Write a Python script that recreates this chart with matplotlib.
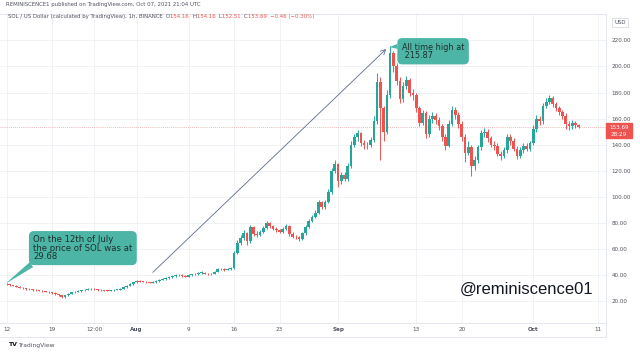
import numpy as np
import matplotlib.pyplot as plt
from matplotlib.lines import Line2D
from matplotlib.patches import Rectangle

plt.rcParams['font.family'] = ['DejaVu Sans']

closes = [
    33.0, 32.5, 31.8, 31.3, 30.6, 30.0, 29.4, 29.1, 28.7, 28.6,
    28.2, 27.8, 27.5, 27.0, 26.3, 25.6, 24.5, 23.2, 24.6, 26.0,
    26.8, 27.4, 27.9, 28.4, 28.9, 29.3, 29.8, 29.2, 28.8, 28.6,
    28.3, 28.2, 28.4, 28.8, 29.0, 29.8, 30.8, 32.0, 33.3, 34.5,
    35.8, 35.2, 35.0, 34.6, 34.3, 34.7, 35.6, 36.4, 37.0, 37.8,
    38.5, 39.5, 40.3, 40.0, 39.4, 39.0, 40.2, 40.6, 40.9, 41.8,
    42.0, 41.2, 40.6, 41.0, 42.8, 44.5, 44.9, 44.2, 44.6, 45.5,
    57.0, 65.0, 68.5, 72.5, 66.0, 77.0, 71.5, 71.0, 73.0, 76.5,
    80.0, 77.5, 75.5, 74.5, 73.0, 75.5, 77.5, 71.5, 69.5, 69.0,
    68.0, 72.0, 77.0, 81.5, 84.5, 88.0, 96.0, 92.5, 96.0, 104.0,
    120.0, 125.0, 112.0, 117.0, 114.0, 124.0, 140.0, 146.0, 149.0, 141.5,
    140.0, 139.5, 143.5, 158.0, 188.0, 168.0, 150.0, 178.0, 210.0, 200.0,
    189.0, 175.0, 185.0, 190.0, 180.0, 178.0, 168.0, 157.0, 164.0, 148.0,
    160.0, 162.0, 159.0, 154.0, 146.0, 139.0, 156.0, 167.0, 163.0, 156.0,
    146.0, 134.0, 138.0, 124.0, 128.0, 138.0, 149.0, 150.0, 145.0, 140.0,
    139.0, 133.0, 131.0, 136.0, 146.0, 143.0, 137.0, 131.0, 136.0, 139.0,
    137.0, 141.0, 152.0, 160.0, 158.0, 170.0, 173.0, 176.0, 171.0, 168.0,
    165.0, 162.0, 156.0, 154.0, 157.0, 155.0, 153.69,
]
highs = [
    33.9, 33.4, 32.9, 32.2, 31.7, 31.0, 30.4, 29.9, 29.5, 29.4,
    29.0, 28.6, 28.3, 27.9, 27.4, 26.8, 26.0, 24.9, 25.0, 26.4,
    27.3, 27.9, 28.4, 28.9, 29.4, 29.9, 30.4, 30.1, 29.6, 29.2,
    29.0, 28.8, 28.9, 29.3, 29.6, 30.3, 31.4, 32.6, 33.9, 35.2,
    36.6, 36.3, 35.8, 35.5, 35.1, 35.3, 36.2, 37.0, 37.6, 38.4,
    39.2, 40.2, 41.1, 41.0, 40.6, 39.9, 40.8, 41.3, 41.6, 42.5,
    42.9, 42.6, 41.8, 41.6, 43.4, 45.2, 45.8, 45.5, 45.3, 46.4,
    58.5, 67.0, 71.0, 75.0, 73.0, 78.5, 78.0, 74.0, 75.0, 78.0,
    81.5, 81.0, 78.5, 77.0, 75.5, 77.0, 79.5, 78.5, 73.0, 71.0,
    70.0, 73.5, 78.5, 83.0, 86.5, 90.0, 98.0, 97.0, 98.0, 106.0,
    122.0, 128.0, 126.0, 119.0, 119.0, 126.0, 143.0, 148.0, 151.0, 150.0,
    144.0, 142.0, 146.0, 162.0, 195.0, 192.0, 170.0, 182.0, 215.87, 212.0,
    203.0, 192.0, 188.0, 193.0, 191.0, 183.0, 180.0, 170.0, 167.0, 166.0,
    163.0, 165.0, 164.0, 161.0, 156.0, 148.0, 159.0, 170.0, 169.0, 165.0,
    158.0, 148.0, 143.0, 140.0, 131.0, 140.0, 151.0, 153.0, 152.0, 147.0,
    143.0, 141.0, 135.0, 138.0, 148.0, 148.0, 145.0, 139.0, 138.0, 141.0,
    141.0, 143.0, 155.0, 163.0, 162.0, 172.0, 176.0, 178.0, 177.0, 173.0,
    170.0, 167.0, 164.0, 158.0, 159.0, 158.0, 156.0,
]
lows = [
    32.6, 32.1, 31.4, 30.8, 30.2, 29.6, 29.0, 28.6, 28.3, 28.1,
    27.8, 27.4, 27.0, 26.5, 25.9, 25.1, 24.0, 22.6, 22.9, 24.2,
    25.6, 26.4, 27.0, 27.5, 28.0, 28.5, 28.9, 28.8, 28.3, 28.1,
    27.8, 27.7, 27.8, 28.0, 28.4, 28.6, 29.4, 30.4, 31.6, 32.9,
    34.1, 34.8, 34.5, 34.1, 33.7, 33.9, 34.3, 35.2, 36.0, 36.6,
    37.4, 38.1, 39.0, 39.6, 39.0, 38.5, 38.6, 39.7, 40.2, 40.4,
    41.2, 40.8, 40.0, 40.1, 40.6, 42.3, 44.0, 43.6, 43.7, 44.0,
    45.0, 56.0, 63.5, 67.0, 63.0, 65.0, 70.0, 69.0, 70.0, 72.0,
    75.5, 76.5, 74.5, 73.0, 72.0, 72.0, 74.5, 70.0, 68.5, 67.5,
    66.5, 67.0, 71.0, 76.0, 80.5, 83.5, 87.0, 90.5, 91.0, 95.0,
    102.0, 118.0, 108.0, 110.0, 112.0, 112.0, 122.0, 138.0, 143.0, 139.0,
    137.0, 137.0, 138.0, 142.0, 156.0, 128.0, 143.0, 148.0, 176.0, 196.0,
    186.0, 172.0, 173.0, 183.0, 177.0, 174.0, 165.0, 154.0, 155.0, 145.0,
    146.0, 157.0, 156.0, 151.0, 143.0, 136.0, 138.0, 154.0, 160.0, 153.0,
    143.0, 127.0, 132.0, 116.0, 121.0, 126.0, 136.0, 146.0, 142.0, 138.0,
    136.0, 131.0, 128.0, 130.0, 134.0, 140.0, 135.0, 129.0, 130.0, 134.0,
    135.0, 135.0, 140.0, 150.0, 155.0, 156.0, 168.0, 171.0, 169.0, 166.0,
    163.0, 160.0, 152.0, 151.0, 152.0, 153.0, 152.51,
]
first_open = 33.3

price_ticks = [20, 40, 60, 80, 100, 120, 140, 160, 180, 200, 220]
date_pos = [0, 7, 13.5, 20, 28, 35, 42, 51, 63, 70, 81, 91]
date_labels = ["12", "19", "12:00", "Aug", "9", "16", "23", "Sep", "13", "20", "Oct", "11"]

last_price = 153.69
ath_day, ath_price = 59.0, 215.87
start_day, start_price = -0.2, 33.3

green = "#26a69a"
red = "#ef5350"
teal = "#4cb5a6"

W, H = 640, 356
fig = plt.figure(figsize=(W / 100, H / 100), dpi=100)
ax = fig.add_axes([0, 1 - 323 / H, 606 / W, (323 - 14) / H])

days = np.arange(len(closes)) * 0.5
c = np.array(closes)
o = np.concatenate([[first_open], c[:-1]])
cols = [green if cc >= oo else red for oo, cc in zip(o, c)]

ax.vlines(days, lows, highs, colors=cols, lw=0.7, zorder=3)
body = np.maximum(np.abs(c - o), 0.4)
ax.bar(days, body, bottom=np.minimum(o, c), width=0.42, color=cols, lw=0, zorder=3)

ax.set_xlim(-1, 92.2)
ax.set_ylim(3.4, 240.2)
ax.yaxis.tick_right()
ax.set_yticks(price_ticks)
ax.set_yticklabels([f"{v:.2f}" for v in price_ticks])
ax.set_xticks(date_pos)
ax.set_xticklabels(date_labels)
for lab in ax.get_xticklabels():
    if lab.get_text() in ("Aug", "Sep", "Oct"):
        lab.set_fontweight("bold")
ax.tick_params(axis="y", length=0, pad=4, labelsize=4.1, labelcolor="#50535e")
ax.tick_params(axis="x", length=0, pad=3, labelsize=4.1, labelcolor="#50535e")
ax.grid(color="#eef0f4", lw=0.6, zorder=0)
for s in ax.spines.values():
    s.set_color("#e0e3eb")
    s.set_linewidth(0.6)
ax.spines["left"].set_visible(False)

# current price line and tag
ax.axhline(last_price, color="#e8a0a0", lw=0.6, ls=(0, (1, 1.5)), zorder=2)
trans = ax.get_yaxis_transform()
ax.add_patch(Rectangle((1.0, last_price - 8.8), 26 / 606, 12.0, transform=trans,
                       color=red, clip_on=False, zorder=5))
ax.text(1.0 + 13 / 606, last_price - 0.6, f"{last_price:.2f}", transform=trans,
        ha="center", va="center", fontsize=4.1, color="white", zorder=6)
ax.text(1.0 + 13 / 606, last_price - 5.6, "28:29", transform=trans,
        ha="center", va="center", fontsize=4.1, color="white", zorder=6)

# USD label
fig.patches.append(Rectangle((611.7 / W, 1 - 26.7 / H), 16.6 / W, 8.4 / H,
                             transform=fig.transFigure, fc="white", ec="#d1d4dc", lw=0.5))
fig.text(620 / W, 1 - 22.5 / H, "USD", ha="center", va="center", fontsize=3.9, color="#50535e")

# time axis bottom line
fig.add_artist(Line2D([0, 606 / W], [1 - 337 / H, 1 - 337 / H], color="#e0e3eb", lw=0.6))
fig.add_artist(Line2D([606 / W, 606 / W], [1 - 337 / H, 1 - 323 / H], color="#e0e3eb", lw=0.6))

# callouts
ax.annotate("On the 12th of July\nthe price of SOL was at\n29.68",
            xy=(start_day, start_price), xytext=(4.1, 70.6), textcoords="data",
            ha="left", va="top", fontsize=6.1, linespacing=0.9, color="#1e2f2d",
            bbox=dict(boxstyle="round,pad=0.5,rounding_size=0.6", fc=teal, ec="none"),
            arrowprops=dict(arrowstyle="wedge,tail_width=0.7,shrink_factor=0.5", fc=teal,
                            ec="none", relpos=(0.05, 0.05), shrinkA=0, shrinkB=0),
            zorder=7)
ax.annotate("All time high at\n 215.87",
            xy=(ath_day - 0.1, ath_price - 1), xytext=(60.8, 218.3), textcoords="data",
            ha="left", va="top", fontsize=5.9, linespacing=0.9, color="#1e2f2d",
            bbox=dict(boxstyle="round,pad=0.55,rounding_size=0.6", fc=teal, ec="none"),
            arrowprops=dict(arrowstyle="wedge,tail_width=0.6,shrink_factor=0.5", fc=teal,
                            ec="none", relpos=(0.02, 0.8), shrinkA=0, shrinkB=0),
            zorder=7)
ax.annotate("", xy=(ath_day - 0.6, ath_price - 2.5), xytext=(22.5, 42.2),
            arrowprops=dict(arrowstyle="->,head_length=0.35,head_width=0.18",
                            color="#5b6b8c", lw=0.6, shrinkA=0, shrinkB=0), zorder=6)

fig.text(460 / W, 1 - 289 / H, "@reminiscence01", family="Liberation Sans", fontsize=12,
         color="#131722", va="center", ha="left")

# header texts
fig.text(6 / W, 1 - 4.5 / H, "REMINISCENCE1 published on TradingView.com, Oct 07, 2021 21:04 UTC",
         fontsize=3.9, color="#50535e", va="center", ha="left")

pieces = [("SOL / US Dollar (calculated by TradingView), 1h, BINANCE  ", "#50535e"),
          ("O", "#50535e"), ("154.16  ", red), ("H", "#50535e"), ("154.16  ", red),
          ("L", "#50535e"), ("152.51  ", red), ("C", "#50535e"), ("153.69  ", red),
          ("\u22120.46 (\u22120.30%)", red)]
fig.canvas.draw()
r = fig.canvas.get_renderer()
x = 8 / W
for txt, col in pieces:
    t = fig.text(x, 1 - 16.5 / H, txt, fontsize=3.9, color=col, va="center", ha="left")
    bb = t.get_window_extent(renderer=r)
    x = bb.x1 / W

# footer
fig.text(8 / W, 1 - 345 / H, "TV", fontsize=4.5, fontweight="bold", color="#131722", va="center")
fig.text(18 / W, 1 - 345 / H, "TradingView", fontsize=4.3, color="#50535e", va="center")

fig.savefig("out.png", dpi=100, facecolor="white")
